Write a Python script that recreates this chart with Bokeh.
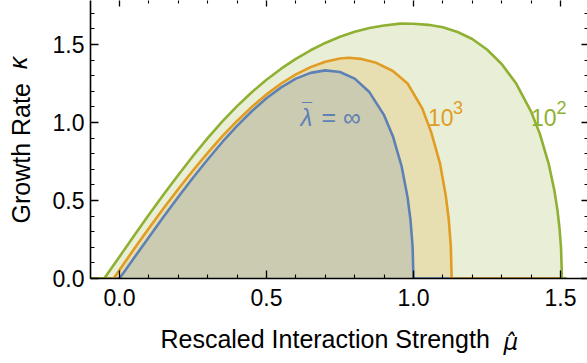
import math
from bokeh.plotting import figure
from bokeh.models import LinearAxis, FixedTicker, Range1d, PrintfTickFormatter, Label, CustomJSTickFormatter
from bokeh.embed import file_html
from bokeh.resources import INLINE

# ---- data ----
mu_inf = [-0.1, 0.0, 0.05, 0.1, 0.15, 0.2, 0.25, 0.3, 0.35, 0.4, 0.45, 0.5, 0.55, 0.6,
          0.65, 0.7, 0.75, 0.8, 0.85, 0.9, 0.93, 0.96, 0.98, 0.99, 0.997, 1.0, 1.52]
kappa_inf = [0.0, 0.0, 0.133, 0.265, 0.396, 0.523, 0.646, 0.763, 0.875, 0.978, 1.072, 1.155,
             1.225, 1.281, 1.318, 1.334, 1.324, 1.281, 1.195, 1.047, 0.912, 0.717, 0.520,
             0.373, 0.206, 0.0, 0.0]

mu_1e3 = [-0.1, -0.02, 0.0, 0.05, 0.1, 0.15, 0.2, 0.25, 0.3, 0.35, 0.4, 0.45, 0.5, 0.55,
          0.6, 0.65, 0.7, 0.75, 0.78, 0.82, 0.87, 0.93, 0.98, 1.03, 1.06, 1.09, 1.11, 1.12,
          1.127, 1.13, 1.52]
kappa_1e3 = [0.0, 0.0, 0.055, 0.19, 0.322, 0.45, 0.574, 0.692, 0.805, 0.912, 1.01, 1.10,
             1.18, 1.25, 1.308, 1.355, 1.389, 1.41, 1.415, 1.408, 1.385, 1.33, 1.25, 1.09,
             0.94, 0.74, 0.53, 0.38, 0.21, 0.0, 0.0]

mu_1e2 = [-0.1, -0.052, 0.0, 0.05, 0.1, 0.15, 0.2, 0.25, 0.3, 0.35, 0.4, 0.45, 0.5, 0.55,
          0.6, 0.65, 0.7, 0.75, 0.8, 0.85, 0.9, 0.955, 1.0, 1.05, 1.1, 1.15, 1.2, 1.25, 1.3,
          1.35, 1.4, 1.43, 1.46, 1.48, 1.49, 1.497, 1.502, 1.505, 1.52]
kappa_1e2 = [0.0, 0.0, 0.14, 0.275, 0.408, 0.538, 0.664, 0.785, 0.90, 1.007, 1.105, 1.194,
             1.274, 1.345, 1.408, 1.463, 1.51, 1.55, 1.582, 1.606, 1.622, 1.634, 1.633,
             1.626, 1.61, 1.58, 1.535, 1.468, 1.375, 1.248, 1.07, 0.927, 0.735, 0.557,
             0.435, 0.319, 0.196, 0.0, 0.0]

x_major = [0.0, 0.5, 1.0, 1.5]
x_minor = [-0.1, 0.1, 0.2, 0.3, 0.4, 0.6, 0.7, 0.8, 0.9, 1.1, 1.2, 1.3, 1.4, 1.6]
y_major = [0.0, 0.5, 1.0, 1.5]
y_minor = [0.1, 0.2, 0.3, 0.4, 0.6, 0.7, 0.8, 0.9, 1.1, 1.2, 1.3, 1.4, 1.6, 1.7]

x_title = "Rescaled Interaction Strength"
x_symbol = "μ̂"
y_title = "Growth Rate"
y_symbol = "κ"
label_inf = ["λ", "¯", "= ∞"]
label_1e3 = ["10", "3"]
label_1e2 = ["10", "2"]

# ---- styles ----
BLUE = "#5E81B5"
ORANGE = "#E19C24"
GREEN = "#8FB032"
FONT = "Liberation Sans"
NB = "\u00a0"

p = figure(width=587, height=363, output_backend="svg", toolbar_location=None,
           x_range=Range1d(-0.0986, 1.592), y_range=Range1d(0.0, 1.782),
           min_border_left=90, min_border_right=0, min_border_top=0, min_border_bottom=85,
           background_fill_color="white", border_fill_color="white")
p.outline_line_color = None
p.xgrid.visible = False
p.ygrid.visible = False

# fills (layered, translucent) then lines
for mu, ka, col in [(mu_1e2, kappa_1e2, GREEN), (mu_1e3, kappa_1e3, ORANGE), (mu_inf, kappa_inf, BLUE)]:
    p.varea(x=mu, y1=[0.0] * len(mu), y2=ka, fill_color=col, fill_alpha=0.2)
for mu, ka, col in [(mu_inf, kappa_inf, BLUE), (mu_1e3, kappa_1e3, ORANGE), (mu_1e2, kappa_1e2, GREEN)]:
    p.line(mu, ka, line_color=col, line_width=2.6, line_join="round")

def style_axis(ax):
    ax.axis_line_color = "black"
    ax.axis_line_width = 1.6
    ax.major_tick_line_color = "black"
    ax.minor_tick_line_color = "black"
    ax.major_tick_line_width = 1.3
    ax.minor_tick_line_width = 1.1
    ax.major_tick_in = 8
    ax.major_tick_out = 0
    ax.minor_tick_in = 4
    ax.minor_tick_out = 0
    ax.major_label_text_font = FONT
    ax.major_label_text_font_size = "23px"
    ax.major_label_text_color = "black"
    ax.axis_label_text_font = FONT
    ax.axis_label_text_font_size = "25px"
    ax.axis_label_text_font_style = "normal"
    ax.axis_label_text_color = "black"

xa = p.xaxis[0]
ya = p.yaxis[0]
xa.ticker = FixedTicker(ticks=x_major, minor_ticks=x_minor)
ya.ticker = FixedTicker(ticks=y_major, minor_ticks=y_minor)
xa.formatter = PrintfTickFormatter(format="%.1f")
ya.formatter = PrintfTickFormatter(format="%.1f")
style_axis(xa)
style_axis(ya)
xa.major_label_standoff = 10
ya.major_label_standoff = 6
xa.axis_label = x_title + NB * 4
ya.axis_label = y_title + NB * 4
xa.axis_label_standoff = 16
ya.axis_label_standoff = 15

blank = CustomJSTickFormatter(code="return ''")

# frame ticks on top and right (no labels)
top = LinearAxis(ticker=FixedTicker(ticks=x_major, minor_ticks=x_minor), formatter=blank)
right = LinearAxis(ticker=FixedTicker(ticks=y_major, minor_ticks=y_minor), formatter=blank)
for ax in (top, right):
    style_axis(ax)
    ax.axis_line_color = None
    ax.major_label_standoff = 0
    ax.major_tick_in = 6
    ax.minor_tick_in = 3
p.add_layout(top, "above")
p.add_layout(right, "right")

# italic symbols of the axis titles, set on the same line as the titles
xs = LinearAxis(ticker=FixedTicker(ticks=[]), formatter=blank, axis_line_color=None,
                axis_label=NB * 47 + x_symbol, axis_label_standoff=-27,
                axis_label_text_font="DejaVu Sans", axis_label_text_font_size="23px",
                axis_label_text_font_style="italic", axis_label_text_color="black")
ys = LinearAxis(ticker=FixedTicker(ticks=[]), formatter=blank, axis_line_color=None,
                axis_label=NB * 22 + y_symbol, axis_label_standoff=-28,
                axis_label_text_font=FONT, axis_label_text_font_size="25px",
                axis_label_text_font_style="italic", axis_label_text_color="black")
for ax in (xs, ys):
    ax.major_tick_line_color = None
    ax.minor_tick_line_color = None
p.add_layout(xs, "below")
p.add_layout(ys, "left")

def lab(x, y, text, color, size, style="normal", xo=0, yo=0):
    p.add_layout(Label(x=x, y=y, x_offset=xo, y_offset=yo, text=text, text_color=color,
                       text_font=FONT, text_font_size=size, text_font_style=style,
                       text_baseline="alphabetic", text_align="left"))

# curve annotations
lab(0.6156, 1.033, label_inf[0], BLUE, "24px", style="italic")
lab(0.6207, 1.077, label_inf[1], BLUE, "18px")
lab(0.687, 1.033, label_inf[2], BLUE, "25px")
lab(1.0493, 1.033, label_1e3[0], ORANGE, "23px")
lab(1.0493, 1.033, label_1e3[1], ORANGE, "18px", xo=25, yo=10)
lab(1.40, 1.033, label_1e2[0], GREEN, "23px")
lab(1.40, 1.033, label_1e2[1], GREEN, "18px", xo=25.5, yo=10)

open("out.html", "w").write(file_html(p, INLINE))
